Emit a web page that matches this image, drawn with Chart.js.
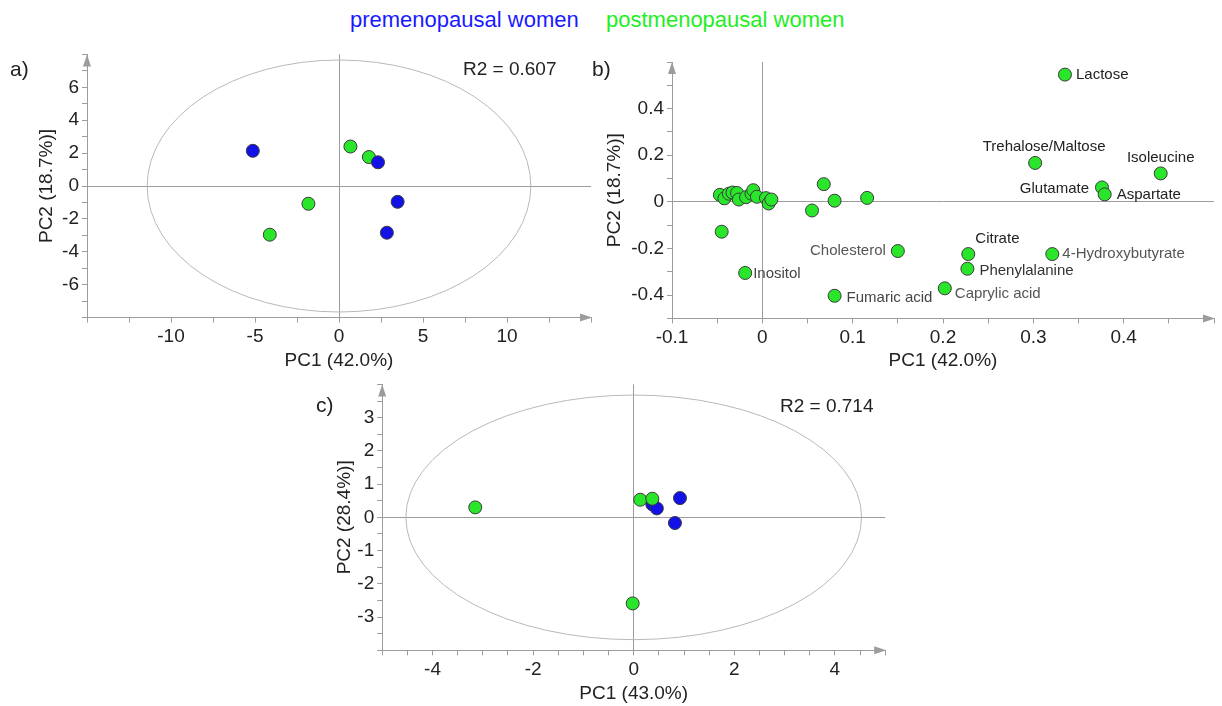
<!DOCTYPE html>
<html>
<head>
<meta charset="utf-8">
<script src="https://cdn.jsdelivr.net/npm/chart.js@4.4.1/dist/chart.umd.min.js"></script>
<style>
  body { margin: 0; background: #fff; width: 1222px; height: 706px; position: relative; overflow: hidden;
         font-family: "Liberation Sans", Arial, sans-serif; }
  canvas { position: absolute; }
  .txt { position: absolute; white-space: nowrap; color: #222; line-height: 24px; }
</style>
</head>
<body>
<canvas id="chartA" width="600" height="340" style="left:0px;top:40px;width:600px;height:340px"></canvas>
<canvas id="chartB" width="632" height="340" style="left:590px;top:40px;width:632px;height:340px"></canvas>
<canvas id="chartC" width="600" height="336" style="left:300px;top:370px;width:600px;height:336px"></canvas>

<div class="txt" style="left:350px;top:8px;font-size:22px;color:#1a1aff">premenopausal women</div>
<div class="txt" style="left:606px;top:8px;font-size:22px;color:#22ee22">postmenopausal women</div>
<div class="txt" style="left:10px;top:57px;font-size:21px">a)</div>
<div class="txt" style="left:592px;top:57px;font-size:21px">b)</div>
<div class="txt" style="left:316px;top:393px;font-size:21px">c)</div>
<div class="txt" style="left:463px;top:57px;font-size:19px">R2 = 0.607</div>
<div class="txt" style="left:780px;top:394px;font-size:19px">R2 = 0.714</div>

<script>
// a) scores, 42.0% / 18.7%
const preA_pc1 = [-5.13, 2.32, 3.49, 2.85];
const preA_pc2 = [2.14, 1.44, -0.96, -2.84];
const postA_pc1 = [0.68, 1.78, -1.82, -4.12];
const postA_pc2 = [2.40, 1.76, -1.08, -2.96];
const ellipseA = [11.42, 7.66];

// b) loadings
const metNames = ['Lactose', 'Trehalose/Maltose', 'Isoleucine', 'Glutamate', 'Aspartate', 'Citrate',
                  '4-Hydroxybutyrate', 'Phenylalanine', 'Caprylic acid', 'Fumaric acid', 'Cholesterol', 'Inositol'];
const metPC1 = [0.335, 0.302, 0.441, 0.376, 0.379, 0.228, 0.321, 0.227, 0.202, 0.080, 0.150, -0.019];
const metPC2 = [0.546, 0.167, 0.122, 0.062, 0.032, -0.224, -0.224, -0.287, -0.371, -0.403, -0.211, -0.305];
const otherPC1 = [-0.047, -0.042, -0.037, -0.033, -0.028, -0.026, -0.018, -0.012, -0.010, -0.006, 0.004, 0.007, 0.010,
                  -0.045, 0.055, 0.068, 0.080, 0.116];
const otherPC2 = [0.030, 0.015, 0.035, 0.040, 0.038, 0.010, 0.020, 0.035, 0.050, 0.022, 0.016, -0.007, 0.010,
                  -0.128, -0.037, 0.076, 0.005, 0.017];

// c) scores, 43.0% / 28.4%
const preC_pc1 = [0.37, 0.46, 0.92, 0.82];
const preC_pc2 = [0.39, 0.27, 0.58, -0.17];
const postC_pc1 = [-3.15, 0.13, 0.37, -0.02];
const postC_pc2 = [0.30, 0.53, 0.56, -2.59];
const ellipseC = [4.53, 3.68];

const BLUE = '#1212e8';
const GREEN = '#2ae62a';
const GRAY = '#9c9c9c';
Chart.defaults.font.family = '"Liberation Sans", Arial, sans-serif';

// label offsets for the loading plot: dx, dy, align, colour
const labelPlace = {
    'Lactose': [11, 0, 'left', '#222'],
    'Trehalose/Maltose': [9, -16, 'center', '#222'],
    'Isoleucine': [0, -16, 'center', '#222'],
    'Glutamate': [-13, 1, 'right', '#222'],
    'Aspartate': [12, 0, 'left', '#222'],
    'Citrate': [7, -15, 'left', '#222'],
    '4-Hydroxybutyrate': [10, 0, 'left', '#555'],
    'Phenylalanine': [12, 2, 'left', '#333'],
    'Caprylic acid': [10, 6, 'left', '#555'],
    'Fumaric acid': [12, 2, 'left', '#444'],
    'Cholesterol': [-12, 0, 'right', '#555'],
    'Inositol': [8, 1, 'left', '#444']
};

function pts(xs, ys) {
    return xs.map((x, i) => ({x: x, y: ys[i]}));
}

function isMult(v, m) {
    return Math.abs(v / m - Math.round(v / m)) < 1e-6;
}

function fmt(v) {
    return String(Math.round(v * 100) / 100);
}

function axis(o) {
    return {
        type: 'linear',
        min: o.min,
        max: o.max,
        border: {display: true, color: GRAY, width: 1},
        grid: {
            drawOnChartArea: true,
            color: c => (c.tick && Math.abs(c.tick.value) < 1e-9) ? GRAY : 'rgba(0,0,0,0)',
            tickColor: GRAY,
            tickLength: 5,
            lineWidth: 1
        },
        ticks: {
            stepSize: o.step,
            autoSkip: false,
            maxRotation: 0,
            padding: 3,
            color: '#222',
            font: {size: 19},
            callback: v => o.show(v) ? fmt(v) : ''
        },
        title: {display: true, text: o.title, color: '#222', font: {size: 19}, padding: o.titlePad},
        afterFit: s => {
            if (o.horizontal) s.height = o.size;
            else s.width = o.size;
        }
    };
}

const ellipsePlugin = {
    id: 'ellipse',
    beforeDatasetsDraw(chart, args, opts) {
        if (!opts.r) return;
        const xs = chart.scales.x, ys = chart.scales.y, ctx = chart.ctx;
        const cx = xs.getPixelForValue(0), cy = ys.getPixelForValue(0);
        const rx = Math.abs(xs.getPixelForValue(opts.r[0]) - cx);
        const ry = Math.abs(ys.getPixelForValue(opts.r[1]) - cy);
        ctx.save();
        ctx.strokeStyle = '#b8b8b8';
        ctx.lineWidth = 1;
        ctx.beginPath();
        ctx.ellipse(cx, cy, rx, ry, 0, 0, 2 * Math.PI);
        ctx.stroke();
        ctx.restore();
    }
};

const arrowPlugin = {
    id: 'arrows',
    afterDraw(chart) {
        const a = chart.chartArea, ctx = chart.ctx;
        ctx.save();
        ctx.fillStyle = GRAY;
        ctx.beginPath();
        ctx.moveTo(a.right + 1, a.bottom);
        ctx.lineTo(a.right - 11, a.bottom - 4);
        ctx.lineTo(a.right - 11, a.bottom + 4);
        ctx.closePath();
        ctx.fill();
        ctx.beginPath();
        ctx.moveTo(a.left, a.top);
        ctx.lineTo(a.left - 4, a.top + 12);
        ctx.lineTo(a.left + 4, a.top + 12);
        ctx.closePath();
        ctx.fill();
        ctx.restore();
    }
};

const namePlugin = {
    id: 'names',
    afterDatasetsDraw(chart, args, opts) {
        if (!opts.on) return;
        const xs = chart.scales.x, ys = chart.scales.y, ctx = chart.ctx;
        ctx.save();
        ctx.font = '15px "Liberation Sans", Arial, sans-serif';
        ctx.textBaseline = 'middle';
        metNames.forEach((n, i) => {
            const p = labelPlace[n];
            ctx.fillStyle = p[3];
            ctx.textAlign = p[2];
            ctx.fillText(n, xs.getPixelForValue(metPC1[i]) + p[0], ys.getPixelForValue(metPC2[i]) + p[1]);
        });
        ctx.restore();
    }
};

function dotSet(data, colour, order) {
    return {
        data: data,
        backgroundColor: colour,
        borderColor: '#3a3a3a',
        borderWidth: 1,
        pointRadius: 6.5,
        pointHoverRadius: 6.5,
        order: order
    };
}

function makePanel(id, datasets, xAxis, yAxis, pad, pluginOpts) {
    return new Chart(document.getElementById(id), {
        type: 'scatter',
        data: {datasets: datasets},
        options: {
            responsive: false,
            animation: false,
            devicePixelRatio: 1,
            layout: {padding: pad},
            scales: {x: xAxis, y: yAxis},
            plugins: Object.assign({legend: {display: false}, tooltip: {enabled: false}}, pluginOpts)
        },
        plugins: [ellipsePlugin, namePlugin, arrowPlugin]
    });
}

// panel a
makePanel('chartA',
    [dotSet(pts(preA_pc1, preA_pc2), BLUE, 1), dotSet(pts(postA_pc1, postA_pc2), GREEN, 2)],
    axis({min: -15, max: 15, step: 2.5, horizontal: true, size: 62.4, title: 'PC1 (42.0%)',
          titlePad: {top: 0, bottom: 8}, show: v => isMult(v, 5) && Math.abs(v) <= 10}),
    axis({min: -8, max: 8, step: 1, size: 87, title: 'PC2 (18.7%)]',
          titlePad: {top: 35, bottom: 0}, show: v => isMult(v, 2) && Math.abs(v) <= 6}),
    {top: 11, right: 9, left: 0, bottom: 0},
    {ellipse: {r: ellipseA}, names: {on: false}});

// panel b
makePanel('chartB',
    [dotSet(pts(otherPC1, otherPC2), GREEN, 2), dotSet(pts(metPC1, metPC2), GREEN, 1)],
    axis({min: -0.1, max: 0.5, step: 0.05, horizontal: true, size: 61.6, title: 'PC1 (42.0%)',
          titlePad: {top: 0, bottom: 8}, show: v => isMult(v, 0.1) && v <= 0.41}),
    axis({min: -0.5, max: 0.6, step: 0.1, size: 82, title: 'PC2 (18.7%)]',
          titlePad: {top: 13, bottom: 0}, show: v => isMult(v, 0.2) && Math.abs(v) <= 0.41}),
    {top: 22, right: 8, left: 0, bottom: 0},
    {ellipse: {}, names: {on: true}});

// panel c
makePanel('chartC',
    [dotSet(pts(preC_pc1, preC_pc2), BLUE, 2), dotSet(pts(postC_pc1, postC_pc2), GREEN, 1)],
    axis({min: -5, max: 5, step: 0.5, horizontal: true, size: 55.7, title: 'PC1 (43.0%)',
          titlePad: {top: 0, bottom: 1}, show: v => isMult(v, 2) && Math.abs(v) <= 4}),
    axis({min: -4, max: 4, step: 0.5, size: 82.2, title: 'PC2 (28.4%)]',
          titlePad: {top: 33, bottom: 0}, show: v => isMult(v, 1) && Math.abs(v) <= 3}),
    {top: 13.7, right: 14.8, left: 0, bottom: 0},
    {ellipse: {r: ellipseC}, names: {on: false}});
</script>
</body>
</html>
